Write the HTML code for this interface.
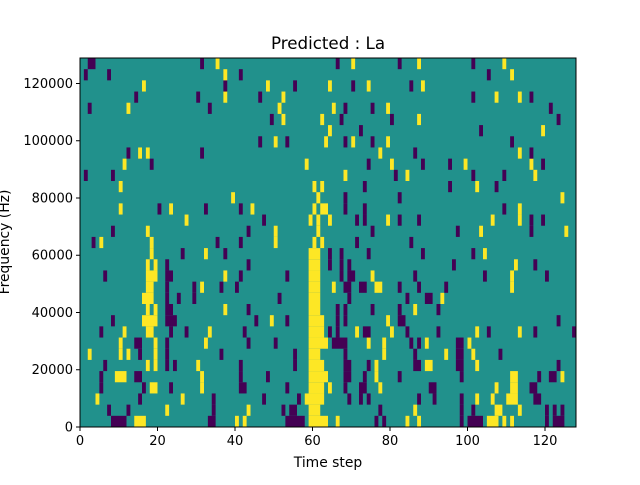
<!DOCTYPE html>
<html><head><meta charset="utf-8"><style>
body{margin:0;background:#fff;}
svg text{font-family:"DejaVu Sans","Liberation Sans",sans-serif;fill:#000;}
</style></head><body>
<svg id="chart" width="640" height="480" viewBox="0 0 640 480" xmlns="http://www.w3.org/2000/svg">
<rect width="640" height="480" fill="#fff"/>
<text x="328" y="49" font-size="16.7" text-anchor="middle">Predicted : La</text>
<g id="cells"></g>
<g id="axes"></g>
<text x="328" y="467" font-size="13.9" text-anchor="middle">Time step</text>
<text transform="translate(9,242) rotate(-90)" font-size="13.9" text-anchor="middle">Frequency (Hz)</text>
</svg>
<script>
const nCols = 128;
const nRows = 33;
const binHz = 3906.25;
const xTicks = [0,20,40,60,80,100,120];
const yTicks = [0,20000,40000,60000,80000,100000,120000];
// per-row (bottom to top) non-background cells: P = purple(low), Y = yellow(high)
const rowCells = [
"P8-11 Y14-16 P33-34 Y40 Y42 P53-57 Y59-63 Y66 P76 P78 Y84 Y87 P98 P100-103 Y105-107 Y109 Y111 P120 P122-124",
"P7 P12 Y22 P34 Y43 P52 P54-55 Y59-61 P77 Y86 P98 P101 Y107-108 Y113 P120 P122 P124",
"Y4 P15 Y26 P34 P47 P56 Y58-62 P69 P72 P74 P87 P91 P98 Y102 Y106 Y110-112 P117-118",
"P5 P16 Y18-19 P23 Y31 P41-42 P53 Y59-62 Y64 P68 P72-73 Y77 P90-91 Y107 Y111-112 P116-117",
"P5 Y9-11 P14-15 Y31 P41 P48 Y59-63 P68-69 P73 Y76 P82 P98 Y111-112 P118 P121-122 Y124",
"P6 Y17 Y19 P22 P24 Y30 P41 P55 Y59-62 P68-69 P74 Y76 P86-87 Y89-90 P97-98 Y102 P123",
"Y2 Y10 Y12 P15 Y19 P22 P36 P55 Y59-61 P68 Y78 P86 Y94 P97-98 Y101 P108",
"Y10 P14-15 Y19 P22 Y32 P43 P50 Y59-63 P65-68 Y74 Y78 P85 P87 Y89 P97-98 Y100",
"P5 Y11 Y17-18 P23 P27 Y33 P42 Y59-62 P64 P66 Y71 P73-74 Y80 P84 P92 Y102 P105 Y113 P117 P127",
"P8 Y16-19 P22-24 P45 Y49 P53 Y59-62 P66 P68 Y79 P82-83 P123",
"Y17 Y19 P22-23 Y37 P43 Y59-61 P66 P68 P75 P82 Y86 P92",
"Y16-18 P22 P25 P29 P51 Y59-61 P69 P84 P89-90 Y93",
"Y17-18 P22 P29 Y31 P36 P40 Y59-61 Y65 P68-69 P72-73 Y76-77 P82 P87 P94 Y111",
"P6 Y17-19 P22-23 Y37 P41 P53 Y59-61 P67 P69-70 Y75 P86 P104 Y111 P120",
"Y17 Y19 P22 P43 Y59-61 P64 P67 P69 P96 Y112 P117",
"Y18 P26 Y32 P37 Y59-61 P64 P67 P74 P88 P101 Y104",
"P3 Y5 Y18 P35 P41 Y50 Y60 Y62 P71 P85",
"P8 Y17 P43 Y50 Y61 P75 P97 Y103 P116 Y125",
"Y27 P47 Y59 Y61 Y64 P71 P73 Y79 P82 P87 Y106 Y113 P116 P119",
"Y10 P20 Y23 P32 P41 Y44 Y60 Y62-63 P68 P73 P109 Y113",
"Y39 Y61 P68 P82 Y124",
"Y10 Y60 Y62 P73 P95 Y102 P107",
"P1 P8 Y68 P81 Y84 P101 P109 Y117",
"Y11 P18 Y58 P74 Y80 P88 P95 Y99 Y116 P119",
"P12 Y15 Y17 P31 Y77 P86 Y113 P116",
"P46 Y50 P53 Y63 P68 Y70 P75 Y79 P111",
"Y64 P72 P103 Y119",
"P49 Y52 Y62 P67 P80 Y87 P123",
"P2 Y12 P33 Y51 Y65 P68 P75 Y79 P121",
"P14 P30 Y37 P46 Y52 P101 Y107 Y113 P116",
"Y16 P37 Y48 P55 Y64 P70 Y74 P85 Y88",
"P1 P7 Y37 P41 P105 Y111",
"P2-3 P31 Y35 P66 Y70 P82 Y87 P101 Y109"
];
const L=80,R=576,T=58,B=427;
const yMax=nRows*binHz;
function xs(v){return L+(v/nCols)*(R-L);}
function ys(v){return B-(v/yMax)*(B-T);}
const NS="http://www.w3.org/2000/svg";
const colors={P:"#440154",Y:"#fde725"};
const cells=document.getElementById('cells');
const bg=document.createElementNS(NS,'rect');


bg.setAttribute('x',L);bg.setAttribute('y',T);bg.setAttribute('width',R-L);bg.setAttribute('height',B-T);bg.setAttribute('fill','#21918c');
cells.appendChild(bg);
rowCells.forEach((s,r)=>{
  s.split(' ').filter(Boolean).forEach(tok=>{
    const v=tok[0];const parts=tok.slice(1).split('-').map(Number);
    const c0=parts[0],c1=parts.length>1?parts[1]:parts[0];
    const rc=document.createElementNS(NS,'rect');
    
    
    const x0=xs(c0),x1=xs(c1+1),y0=ys((r+1)*binHz),y1=ys(r*binHz);
    rc.setAttribute('x',x0);rc.setAttribute('y',y0);
    rc.setAttribute('width',x1-x0);rc.setAttribute('height',y1-y0);
    rc.setAttribute('fill',colors[v]);
    cells.appendChild(rc);
  });
});
const ax=document.getElementById('axes');
const frame=document.createElementNS(NS,'rect');


frame.setAttribute('x',L);frame.setAttribute('y',T);frame.setAttribute('width',R-L);frame.setAttribute('height',B-T);
frame.setAttribute('fill','none');frame.setAttribute('stroke','#000');frame.setAttribute('stroke-width','1');
ax.appendChild(frame);
xTicks.forEach(t=>{
  const x=xs(t);
  const ln=document.createElementNS(NS,'line');
  
  
  ln.setAttribute('x1',x);ln.setAttribute('x2',x);ln.setAttribute('y1',B);ln.setAttribute('y2',B+4);ln.setAttribute('stroke','#000');
  ax.appendChild(ln);
  const tx=document.createElementNS(NS,'text');
  
  
  tx.setAttribute('x',x);tx.setAttribute('y',B+18);tx.setAttribute('font-size','13');tx.setAttribute('text-anchor','middle');
  tx.textContent=t;ax.appendChild(tx);
});
yTicks.forEach(t=>{
  const y=ys(t);
  const ln=document.createElementNS(NS,'line');
  
  
  ln.setAttribute('x1',L-4);ln.setAttribute('x2',L);ln.setAttribute('y1',y);ln.setAttribute('y2',y);ln.setAttribute('stroke','#000');
  ax.appendChild(ln);
  const tx=document.createElementNS(NS,'text');
  
  
  tx.setAttribute('x',L-7);tx.setAttribute('y',y+4.5);tx.setAttribute('font-size','13');tx.setAttribute('text-anchor','end');
  tx.textContent=t;ax.appendChild(tx);
});
</script>
</body></html>
